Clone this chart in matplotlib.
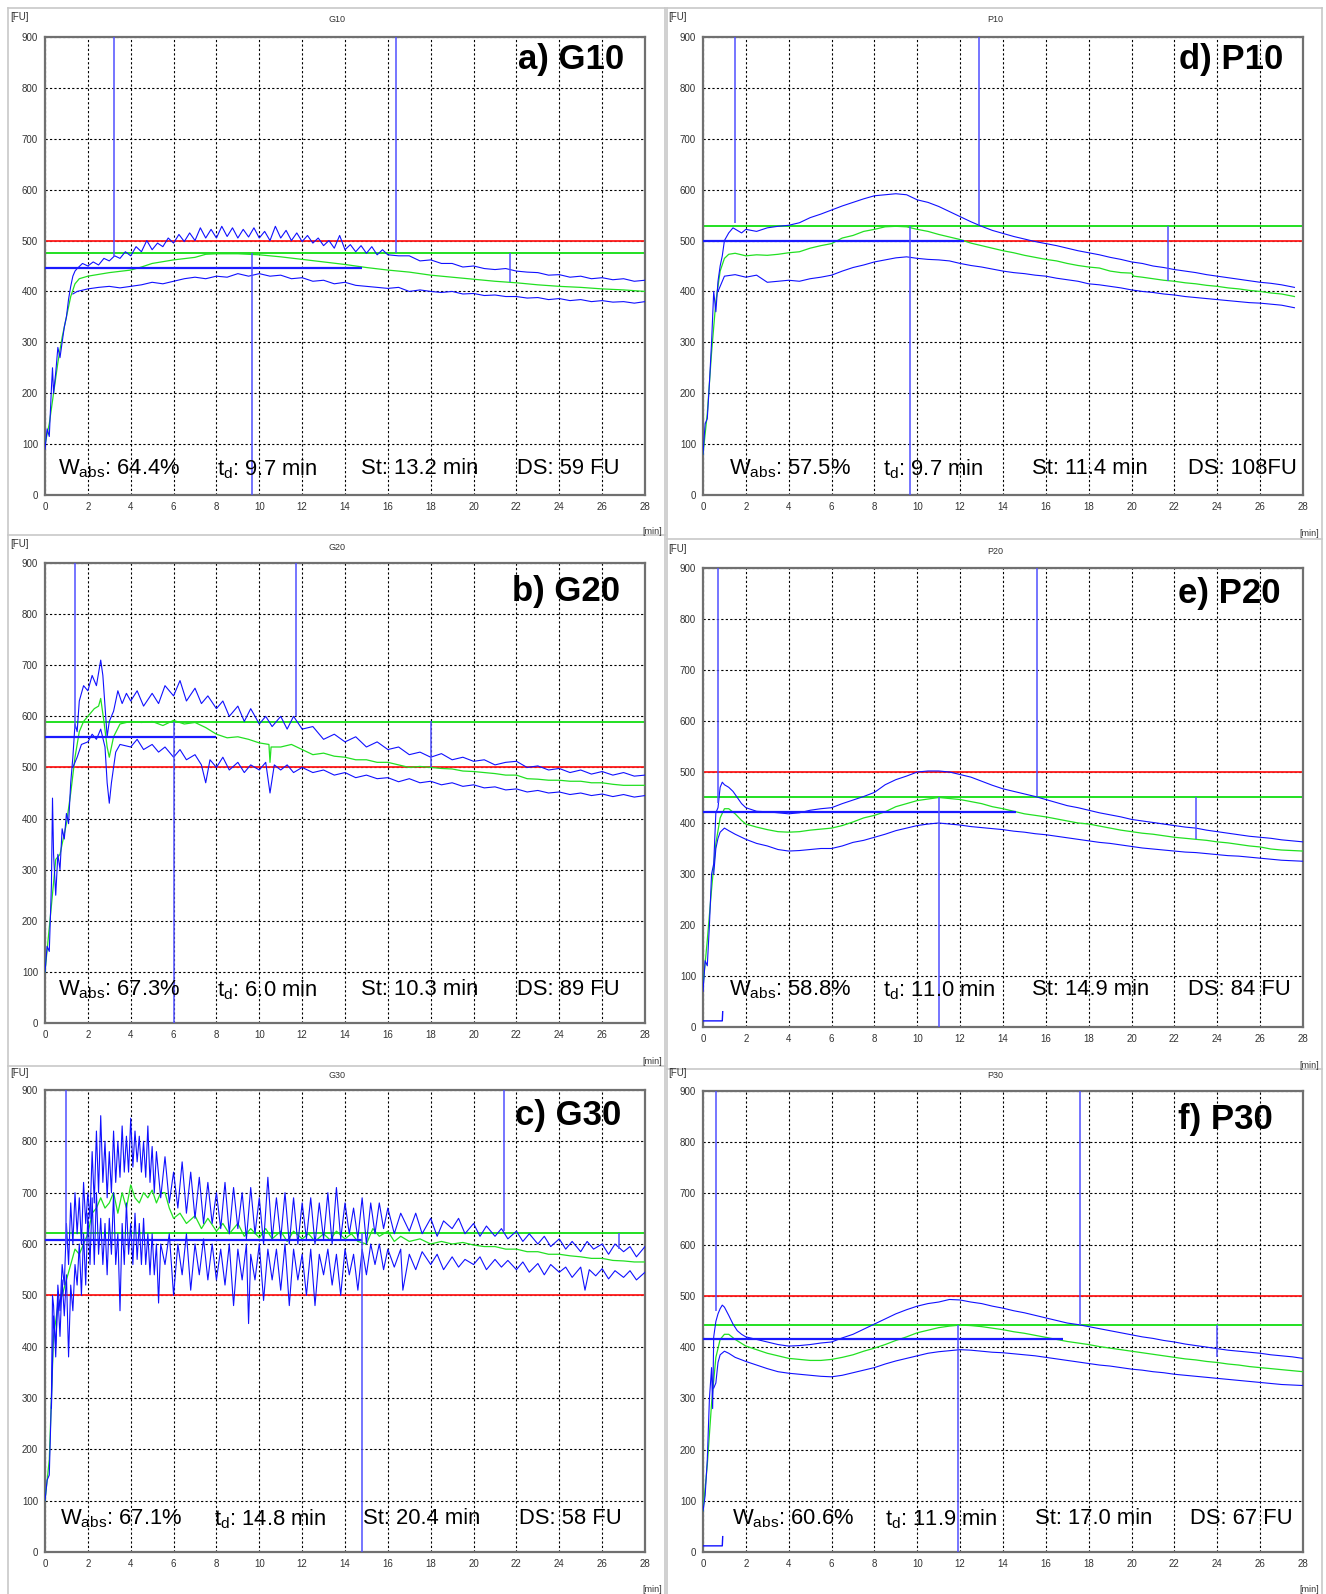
import numpy as np
import matplotlib
matplotlib.use("Agg")
import matplotlib.pyplot as plt
from matplotlib.lines import Line2D

plt.rcParams['font.family'] = ['Liberation Sans', 'DejaVu Sans']
plt.rcParams['mathtext.fontset'] = 'custom'
plt.rcParams['mathtext.rm'] = 'Liberation Sans'
plt.rcParams['mathtext.it'] = 'Liberation Sans'

W, H = 1326, 1594

# ---------------- data (time in min, consistency in FU) ----------------
# a) G10
a_up_t = [0, 0.1, 0.2, 0.3, 0.35, 0.4, 0.5, 0.6, 0.7, 0.8, 0.9, 1.0, 1.1, 1.2, 1.3, 1.4, 1.5,
          1.75, 2.0, 2.25, 2.5, 2.75, 3.0, 3.25, 3.5, 3.75, 4.0, 4.25, 4.5, 4.75, 5.0, 5.25,
          5.5, 5.75, 6.0, 6.25, 6.5, 6.75, 7.0, 7.25, 7.5, 7.75, 8.0, 8.25, 8.5, 8.75, 9.0,
          9.25, 9.5, 9.75, 10.0, 10.25, 10.5, 10.75, 11.0, 11.25, 11.5, 11.75, 12.0, 12.25,
          12.5, 12.75, 13.0, 13.25, 13.5, 13.75, 14.0, 14.25, 14.5, 14.75, 15.0, 15.25, 15.5,
          15.75, 16.0, 16.5, 17.0, 17.5, 18.0, 18.5, 19.0, 19.5, 20.0, 20.5, 21.0, 21.5, 22.0,
          22.5, 23.0, 23.5, 24.0, 24.5, 25.0, 25.5, 26.0, 26.5, 27.0, 27.5, 28.0]
a_up_v = [90, 130, 115, 210, 250, 200, 240, 290, 270, 300, 330, 350, 385, 410, 430, 440, 445,
          455, 450, 458, 452, 465, 460, 470, 465, 478, 470, 488, 478, 500, 482, 495,
          488, 505, 495, 512, 498, 515, 500, 525, 505, 522, 505, 528, 508, 525, 505,
          522, 507, 525, 505, 518, 500, 528, 505, 520, 500, 515, 498, 510,
          495, 505, 490, 500, 485, 510, 482, 492, 478, 490, 475, 488, 472,
          482, 472, 470, 470, 460, 462, 455, 455, 448, 450, 445, 443, 445, 440,
          438, 437, 432, 433, 428, 430, 425, 427, 423, 425, 420, 422]
a_mid_t = [0, 0.2, 0.4, 0.6, 0.8, 1.0, 1.2, 1.4, 1.6, 2, 3, 4, 4.5, 5, 6, 7, 7.5, 8, 9, 10, 11,
           12, 13, 14, 15, 16, 17, 18, 19, 20, 21, 22, 23, 24, 25, 26, 27, 28]
a_mid_v = [100, 140, 200, 260, 310, 350, 390, 415, 425, 430, 437, 442, 448, 455, 462, 467, 473,
           474, 474, 472, 468, 463, 458, 453, 447, 442, 438, 432, 428, 424, 420, 417, 413, 410,
           408, 405, 403, 400]
a_lo_t = [1.3, 1.5, 2.0, 2.5, 3.0, 3.5, 4.0, 4.5, 5.0, 5.5, 6.0, 6.5, 7.0, 7.5, 8.0, 8.5, 9.0,
          9.5, 10.0, 10.5, 11.0, 11.5, 12.0, 12.5, 13.0, 13.5, 14.0, 14.5, 15.0, 15.5, 16.0,
          16.5, 17.0, 17.5, 18.0, 18.5, 19.0, 19.5, 20.0, 20.5, 21.0, 21.5, 22.0, 22.5, 23.0,
          23.5, 24.0, 24.5, 25.0, 25.5, 26.0, 26.5, 27.0, 27.5, 28.0]
a_lo_v = [395, 400, 405, 408, 410, 407, 410, 413, 418, 415, 420, 425, 428, 425, 430, 428, 435,
          430, 435, 430, 432, 425, 427, 420, 422, 415, 418, 412, 410, 408, 406,
          408, 400, 403, 400, 398, 400, 395, 396, 392, 393, 390, 390, 387, 388,
          384, 386, 382, 384, 380, 382, 379, 380, 377, 380]

# b) G20
b_up_t = [0, 0.1, 0.2, 0.3, 0.35, 0.4, 0.5, 0.6, 0.7, 0.8, 0.9, 1.0, 1.1, 1.2, 1.3, 1.4, 1.5,
          1.6, 1.8, 2.0, 2.2, 2.4, 2.6, 2.7, 2.8, 2.9, 3.0, 3.2, 3.4, 3.6, 3.8, 4.0, 4.3, 4.6,
          5.0, 5.3, 5.6, 6.0, 6.3, 6.6, 7.0, 7.3, 7.6, 8.0, 8.3, 8.6, 9.0, 9.3, 9.6, 10.0, 10.3,
          10.6, 11.0, 11.3, 11.6, 12.0, 12.5, 13.0, 13.5, 14.0, 14.5, 15.0, 15.5, 16.0, 16.5,
          17.0, 17.5, 18.0, 18.5, 19.0, 19.5, 20.0, 20.5, 21.0, 21.5, 22.0, 22.5, 23.0, 23.5,
          24.0, 24.5, 25.0, 25.5, 26.0, 26.5, 27.0, 27.5, 28.0]
b_up_v = [100, 150, 140, 270, 440, 330, 250, 330, 300, 380, 360, 410, 390, 470, 520, 585, 570,
          630, 660, 650, 680, 660, 710, 680, 620, 560, 590, 610, 650, 625, 645, 630, 650, 620,
          645, 625, 660, 640, 670, 630, 655, 625, 640, 615, 630, 600, 620, 590, 615, 585, 600,
          580, 600, 575, 600, 575, 580, 555, 565, 550, 560, 540, 550, 535, 540,
          525, 530, 520, 527, 515, 520, 512, 515, 505, 510, 512, 500, 503, 495,
          498, 490, 495, 487, 492, 485, 490, 483, 485]
b_mid_t = [0, 0.3, 0.5, 0.7, 1.0, 1.2, 1.4, 1.6, 1.8, 2.0, 2.3, 2.5, 2.6, 2.75, 2.9, 3.0, 3.2,
           3.5, 4.0, 4.5, 5.0, 5.5, 6.0, 6.5, 7.0, 7.5, 8.0, 8.5, 9.0, 9.5, 10.0, 10.45, 10.5,
           10.55, 11.0, 11.5, 12.0, 12.5, 13.0, 13.5, 14.0, 14.5, 15.0, 15.5, 16.0, 16.5, 17.0,
           17.5, 18.0, 18.5, 19.0, 19.5, 20.0, 20.5, 21.0, 21.5, 22.0, 22.5, 23.0, 23.5, 24.0,
           24.5, 25.0, 25.5, 26.0, 26.5, 27.0, 27.5, 28.0]
b_mid_v = [100, 230, 320, 330, 390, 450, 520, 570, 590, 600, 615, 620, 635, 590, 540, 520, 560,
           585, 590, 588, 590, 582, 592, 585, 588, 578, 565, 558, 560, 555, 548, 545, 510,
           540, 540, 545, 535, 525, 528, 522, 520, 515, 515, 510, 510, 505, 500,
           502, 500, 498, 497, 493, 492, 490, 488, 485, 485, 478, 477, 475, 475,
           473, 473, 470, 470, 467, 465, 465, 465]
b_lo_t = [1.3, 1.5, 1.7, 2.0, 2.2, 2.4, 2.6, 2.8, 2.9, 3.0, 3.1, 3.3, 3.5, 4.0, 4.3, 4.6, 5.0,
          5.3, 5.6, 6.0, 6.3, 6.6, 7.0, 7.3, 7.5, 7.7, 8.0, 8.3, 8.6, 9.0, 9.3, 9.6, 10.0, 10.3,
          10.5, 10.7, 11.0, 11.3, 11.6, 12.0, 12.5, 13.0, 13.5, 14.0, 14.5, 15.0, 15.5, 16.0,
          16.5, 17.0, 17.5, 18.0, 18.5, 19.0, 19.5, 20.0, 20.5, 21.0, 21.5, 22.0, 22.5, 23.0,
          23.5, 24.0, 24.5, 25.0, 25.5, 26.0, 26.5, 27.0, 27.5, 28.0]
b_lo_v = [500, 520, 545, 550, 565, 555, 575, 540, 470, 430, 470, 530, 545, 540, 555, 535, 545,
          530, 540, 520, 535, 515, 525, 505, 470, 515, 500, 520, 495, 510, 490, 505, 495, 510,
          450, 505, 495, 505, 490, 500, 490, 495, 485, 490, 480, 485, 478, 480,
          472, 478, 470, 473, 466, 470, 463, 466, 460, 462, 456, 458, 452, 455,
          450, 452, 447, 450, 445, 448, 443, 447, 442, 445]

# c) G30
c_up_t = [0, 0.1, 0.2, 0.3, 0.35, 0.4, 0.5, 0.6, 0.7, 0.8, 0.9, 1.0, 1.1, 1.2, 1.3, 1.4, 1.5,
          1.6, 1.7, 1.8, 1.9, 2.0, 2.1, 2.2, 2.3, 2.4, 2.5, 2.6, 2.7, 2.8, 2.9, 3.0, 3.1, 3.2,
          3.3, 3.4, 3.5, 3.6, 3.7, 3.8, 3.9, 4.0, 4.1, 4.2, 4.3, 4.4, 4.5, 4.6, 4.7, 4.8, 4.9,
          5.0, 5.1, 5.2, 5.4, 5.6, 5.8, 6.0, 6.2, 6.4, 6.6, 6.8, 7.0, 7.2, 7.4, 7.6, 7.8, 8.0,
          8.2, 8.4, 8.6, 8.8, 9.0, 9.2, 9.4, 9.6, 9.8, 10.0, 10.2, 10.4, 10.6, 10.8, 11.0, 11.2,
          11.4, 11.6, 11.8, 12.0, 12.2, 12.4, 12.6, 12.8, 13.0, 13.2, 13.4, 13.6, 13.8, 14.0,
          14.2, 14.4, 14.6, 14.8, 15.0, 15.2, 15.4, 15.6, 15.8, 16.0, 16.3, 16.6, 17.0, 17.3,
          17.6, 18.0, 18.3, 18.6, 19.0, 19.3, 19.6, 20.0, 20.3, 20.6, 21.0, 21.3, 21.6, 22.0,
          22.3, 22.6, 23.0, 23.3, 23.6, 24.0, 24.3, 24.6, 25.0, 25.3, 25.6, 26.0, 26.3, 26.6,
          27.0, 27.3, 27.6, 28.0]
c_up_v = [100, 140, 150, 300, 500, 480, 380, 520, 470, 560, 520, 640, 560, 680, 600, 700, 620,
          690, 600, 720, 640, 700, 650, 780, 680, 820, 700, 850, 720, 800, 690, 780, 700, 820,
          720, 800, 730, 830, 740, 810, 740, 845, 750, 820, 760, 810, 740, 800, 730, 830, 720,
          790, 700, 780, 690, 770, 680, 740, 670, 760, 660, 740, 650, 730, 640, 720, 640, 700,
          630, 720, 620, 710, 630, 700, 610, 710, 620, 690, 600, 730, 610, 690, 610, 700,
          600, 690, 600, 680, 610, 690, 600, 680, 610, 700, 600, 710, 610, 680,
          620, 670, 610, 690, 600, 680, 620, 680, 630, 670, 620, 660, 625, 660,
          620, 650, 615, 645, 630, 650, 620, 640, 615, 635, 615, 630, 610, 625,
          605, 620, 600, 615, 595, 610, 590, 605, 585, 605, 590, 600, 580, 600,
          585, 595, 575, 595]
c_mid_t = [0, 0.2, 0.4, 0.6, 0.8, 1.0, 1.2, 1.4, 1.6, 1.8, 2.0, 2.2, 2.4, 2.6, 2.8, 3.0, 3.2,
           3.4, 3.6, 3.8, 4.0, 4.2, 4.4, 4.6, 4.8, 5.0, 5.2, 5.4, 5.6, 5.8, 6.0, 6.3, 6.6, 7.0,
           7.3, 7.6, 8.0, 8.3, 8.6, 9.0, 9.3, 9.6, 10.0, 10.3, 10.6, 11.0, 11.3, 11.6, 12.0,
           12.3, 12.6, 13.0, 13.3, 13.6, 14.0, 14.3, 14.6, 15.0, 15.3, 15.6, 16.0, 16.3, 16.6,
           17.0, 17.5, 18.0, 18.5, 19.0, 19.5, 20.0, 20.5, 21.0, 21.5, 22.0, 22.5, 23.0, 23.5,
           24.0, 24.5, 25.0, 25.5, 26.0, 26.5, 27.0, 27.5, 28.0]
c_mid_v = [100, 180, 420, 480, 500, 530, 560, 590, 580, 600, 620, 660, 670, 690, 670, 680, 700,
           660, 700, 670, 715, 690, 680, 700, 690, 705, 680, 700, 700, 670, 650, 660, 640, 655,
           630, 650, 625, 640, 620, 640, 615, 630, 612, 630, 610, 625, 605, 625, 610,
           620, 605, 620, 608, 625, 610, 620, 605, 600, 630, 615, 625, 605, 615,
           605, 610, 600, 605, 600, 603, 598, 595, 595, 590, 590, 585, 585, 580,
           580, 577, 575, 572, 572, 568, 567, 565, 565]
c_lo_t = [0.3, 0.4, 0.5, 0.6, 0.7, 0.8, 0.9, 1.0, 1.1, 1.2, 1.3, 1.4, 1.5, 1.6, 1.7, 1.8, 1.9,
          2.0, 2.1, 2.2, 2.3, 2.4, 2.5, 2.6, 2.7, 2.8, 2.9, 3.0, 3.1, 3.2, 3.3, 3.4, 3.5, 3.6,
          3.7, 3.8, 3.9, 4.0, 4.1, 4.2, 4.3, 4.4, 4.5, 4.6, 4.7, 4.8, 4.9, 5.0, 5.1, 5.2, 5.3,
          5.4, 5.6, 5.8, 6.0, 6.2, 6.4, 6.6, 6.8, 7.0, 7.2, 7.4, 7.6, 7.8, 8.0, 8.2, 8.4, 8.6,
          8.8, 9.0, 9.2, 9.4, 9.5, 9.6, 9.8, 10.0, 10.2, 10.4, 10.6, 10.8, 11.0, 11.2, 11.4,
          11.6, 11.8, 12.0, 12.2, 12.4, 12.6, 12.8, 13.0, 13.2, 13.4, 13.6, 13.8, 14.0, 14.2,
          14.4, 14.6, 14.8, 15.0, 15.2, 15.4, 15.6, 15.8, 16.0, 16.3, 16.6, 16.7, 17.0, 17.3,
          17.6, 18.0, 18.3, 18.6, 19.0, 19.3, 19.6, 20.0, 20.3, 20.6, 21.0, 21.3, 21.6, 22.0,
          22.3, 22.6, 23.0, 23.3, 23.6, 24.0, 24.3, 24.6, 25.0, 25.2, 25.4, 25.7, 26.0, 26.3,
          26.6, 27.0, 27.3, 27.6, 28.0]
c_lo_v = [280, 460, 400, 500, 420, 530, 460, 540, 380, 520, 470, 560, 520, 600, 500, 620, 520,
          660, 560, 690, 560, 700, 580, 650, 560, 640, 540, 650, 580, 700, 560, 620, 470, 640,
          560, 680, 580, 640, 560, 660, 570, 640, 560, 650, 560, 620, 540, 620, 540, 600, 485,
          600, 560, 620, 500, 600, 540, 620, 510, 600, 540, 610, 530, 600, 530, 590, 520, 600,
          480, 590, 530, 600, 445, 580, 530, 600, 490, 590, 530, 590, 510, 600, 480,
          590, 530, 580, 500, 590, 480, 580, 540, 590, 520, 580, 500, 590, 540,
          580, 510, 590, 540, 600, 560, 600, 550, 590, 555, 590, 510, 580, 550,
          585, 560, 580, 550, 575, 555, 570, 560, 575, 550, 570, 555, 568, 550,
          565, 545, 562, 540, 560, 545, 555, 535, 555, 510, 550, 538, 552, 532,
          548, 535, 548, 530, 545]

# d) P10
d_up_t = [0, 0.1, 0.2, 0.3, 0.4, 0.5, 0.6, 0.7, 0.8, 0.9, 1.0, 1.2, 1.4, 1.6, 1.8, 2.0, 2.5,
          3.0, 3.5, 4.0, 4.5, 5.0, 5.5, 6.0, 6.5, 7.0, 7.5, 8.0, 8.5, 9.0, 9.5, 10.0, 10.5,
          11.0, 11.5, 12.0, 12.5, 13.0, 13.5, 14.0, 14.5, 15.0, 15.5, 16.0, 16.5, 17.0, 17.5,
          18.0, 18.5, 19.0, 19.5, 20.0, 20.5, 21.0, 21.5, 22.0, 22.5, 23.0, 23.5, 24.0, 24.5,
          25.0, 25.5, 26.0, 26.5, 27.0, 27.6]
d_up_v = [80, 140, 150, 220, 300, 400, 360, 420, 450, 470, 500, 515, 525, 520, 515, 522, 518,
          525, 528, 530, 535, 545, 552, 560, 568, 575, 582, 588, 590, 592, 590, 580, 575,
          567, 557, 547, 537, 528, 520, 514, 508, 503, 498, 494, 490, 485, 480,
          476, 472, 467, 463, 458, 455, 450, 447, 443, 440, 437, 433, 430, 427,
          424, 421, 418, 416, 413, 408]
d_mid_t = [0, 0.2, 0.4, 0.6, 0.8, 1.0, 1.2, 1.5, 2.0, 2.5, 3.0, 3.5, 4.0, 4.5, 5.0, 5.5, 6.0,
           6.5, 7.0, 7.5, 8.0, 8.5, 9.0, 9.5, 10.0, 10.5, 11.0, 11.5, 12.0, 12.5, 13.0, 13.5,
           14.0, 14.5, 15.0, 15.5, 16.0, 16.5, 17.0, 17.5, 18.0, 18.5, 19.0, 19.5, 20.0, 20.1,
           20.5, 21.0, 21.5, 22.0, 22.5, 23.0, 23.5, 24.0, 24.5, 25.0, 25.5, 26.0, 26.5, 27.0,
           27.6]
d_mid_v = [80, 160, 280, 380, 440, 465, 473, 475, 470, 472, 471, 473, 476, 478, 485, 490, 494,
           505, 510, 518, 522, 527, 528, 527, 522, 518, 512, 507, 502, 495, 490, 485,
           480, 476, 471, 467, 463, 460, 455, 451, 448, 446, 440, 437, 436, 430,
           428, 425, 422, 420, 417, 415, 412, 410, 407, 405, 402, 400, 397, 395,
           390]
d_lo_t = [0.7, 0.9, 1.0, 1.5, 2.0, 2.5, 3.0, 3.5, 4.0, 4.5, 5.0, 5.5, 6.0, 6.5, 7.0, 7.5, 8.0,
          8.5, 9.0, 9.5, 10.0, 10.5, 11.0, 11.5, 12.0, 12.5, 13.0, 13.5, 14.0, 14.5, 15.0, 15.5,
          16.0, 16.5, 17.0, 17.5, 18.0, 18.5, 19.0, 19.5, 20.0, 20.5, 21.0, 21.5, 22.0, 22.5,
          23.0, 23.5, 24.0, 24.5, 25.0, 25.5, 26.0, 26.5, 27.0, 27.6]
d_lo_v = [400, 420, 430, 433, 428, 432, 418, 420, 422, 420, 425, 428, 432, 440, 447, 452, 458,
          462, 466, 468, 465, 463, 462, 460, 455, 451, 448, 444, 440, 437, 435, 432,
          430, 426, 423, 420, 415, 413, 410, 407, 403, 400, 398, 395, 393, 390,
          388, 386, 384, 382, 380, 378, 377, 375, 373, 368]

# e) P20
e_up_t = [0, 0.1, 0.2, 0.3, 0.4, 0.5, 0.6, 0.7, 0.8, 0.9, 1.0, 1.2, 1.4, 1.6, 1.8, 2.0, 2.5,
          3.0, 3.5, 4.0, 4.5, 5.0, 5.5, 6.0, 6.5, 7.0, 7.5, 8.0, 8.5, 9.0, 9.5, 10.0, 10.5,
          11.0, 11.5, 12.0, 12.5, 13.0, 13.5, 14.0, 14.5, 15.0, 15.5, 16.0, 16.5, 17.0, 17.5,
          18.0, 18.5, 19.0, 19.5, 20.0, 20.5, 21.0, 21.5, 22.0, 22.5, 23.0, 23.5, 24.0, 24.5,
          25.0, 25.5, 26.0, 26.5, 27.0, 27.5, 28.0]
e_up_v = [70, 130, 120, 200, 300, 320, 420, 430, 470, 480, 475, 470, 462, 450, 438, 430, 423,
          422, 420, 418, 420, 425, 428, 430, 438, 445, 452, 460, 475, 485, 492, 500, 502,
          502, 500, 495, 490, 482, 474, 467, 462, 457, 452, 446, 440, 434, 430,
          425, 420, 416, 412, 407, 404, 401, 398, 395, 392, 390, 386, 383, 380,
          377, 374, 372, 370, 367, 365, 363]
e_mid_t = [0, 0.2, 0.4, 0.6, 0.8, 1.0, 1.2, 1.5, 1.8, 2.0, 2.5, 3.0, 3.5, 4.0, 4.5, 5.0, 5.5,
           6.0, 6.5, 7.0, 7.5, 8.0, 8.5, 9.0, 9.5, 10.0, 10.5, 11.0, 11.5, 12.0, 12.5, 13.0,
           13.5, 14.0, 14.5, 15.0, 15.5, 16.0, 16.5, 17.0, 17.5, 18.0, 18.5, 19.0, 19.5, 20.0,
           20.5, 21.0, 21.5, 22.0, 22.5, 23.0, 23.5, 24.0, 24.5, 25.0, 25.5, 26.0, 26.5, 27.0,
           27.5, 28.0]
e_mid_v = [80, 170, 270, 360, 410, 428, 428, 418, 405, 398, 392, 387, 383, 382, 383, 386, 388,
           390, 395, 402, 410, 415, 422, 432, 438, 444, 447, 450, 448, 446, 442, 438,
           432, 428, 423, 418, 415, 412, 408, 404, 400, 398, 394, 390, 386, 383,
           380, 378, 375, 372, 370, 368, 366, 363, 361, 358, 355, 353, 349, 347,
           346, 345]
e_lo_t = [0.5, 0.6, 0.7, 0.8, 1.0, 1.2, 1.5, 2.0, 2.5, 3.0, 3.5, 4.0, 4.5, 5.0, 5.5, 6.0, 6.5,
          7.0, 7.5, 8.0, 8.5, 9.0, 9.5, 10.0, 10.5, 11.0, 11.5, 12.0, 12.5, 13.0, 13.5, 14.0,
          14.5, 15.0, 15.5, 16.0, 16.5, 17.0, 17.5, 18.0, 18.5, 19.0, 19.5, 20.0, 20.5, 21.0,
          21.5, 22.0, 22.5, 23.0, 23.5, 24.0, 24.5, 25.0, 25.5, 26.0, 26.5, 27.0, 27.5, 28.0]
e_lo_v = [300, 350, 370, 382, 390, 385, 378, 368, 360, 355, 348, 345, 346, 348, 350, 350, 355,
          362, 366, 372, 378, 385, 390, 395, 398, 400, 398, 396, 393, 391, 389, 387,
          384, 382, 379, 377, 374, 371, 368, 365, 362, 360, 357, 354, 351, 349,
          347, 345, 343, 342, 340, 338, 336, 335, 333, 331, 329, 327, 326, 325]

# f) P30
f_up_t = [0, 0.1, 0.2, 0.3, 0.4, 0.45, 0.5, 0.6, 0.7, 0.8, 0.9, 1.0, 1.2, 1.4, 1.6, 1.8, 2.0,
          2.5, 3.0, 3.5, 4.0, 4.5, 5.0, 5.5, 6.0, 6.5, 7.0, 7.5, 8.0, 8.5, 9.0, 9.5, 10.0, 10.5,
          11.0, 11.5, 12.0, 12.5, 13.0, 13.5, 14.0, 14.5, 15.0, 15.5, 16.0, 16.5, 17.0, 17.5,
          18.0, 18.5, 19.0, 19.5, 20.0, 20.5, 21.0, 21.5, 22.0, 22.5, 23.0, 23.5, 24.0, 24.5,
          25.0, 25.5, 26.0, 26.5, 27.0, 27.5, 28.0]
f_up_v = [80, 110, 180, 300, 360, 280, 420, 450, 465, 475, 482, 478, 462, 445, 432, 425, 420,
          415, 410, 405, 402, 403, 405, 408, 410, 418, 425, 435, 445, 455, 465, 473, 480, 485,
          488, 493, 492, 488, 485, 480, 476, 471, 467, 462, 457, 452, 447, 444,
          440, 436, 432, 428, 424, 420, 417, 413, 410, 406, 403, 400, 397, 394,
          392, 390, 388, 385, 383, 381, 378]
f_mid_t = [0, 0.2, 0.4, 0.6, 0.8, 1.0, 1.2, 1.5, 2.0, 2.5, 3.0, 3.5, 4.0, 4.5, 5.0, 5.5, 6.0,
           6.5, 7.0, 7.5, 8.0, 8.5, 9.0, 9.5, 10.0, 10.5, 11.0, 11.5, 12.0, 12.5, 13.0, 13.5,
           14.0, 14.5, 15.0, 15.5, 16.0, 16.5, 17.0, 17.5, 18.0, 18.5, 19.0, 19.5, 20.0, 20.5,
           21.0, 21.5, 22.0, 22.5, 23.0, 23.5, 24.0, 24.5, 25.0, 25.5, 26.0, 26.5, 27.0, 27.5,
           28.0]
f_mid_v = [80, 170, 290, 380, 415, 425, 425, 415, 402, 395, 388, 383, 378, 376, 374, 374, 376,
           380, 385, 392, 398, 405, 413, 420, 428, 433, 438, 441, 443, 442, 440, 437,
           434, 430, 427, 423, 419, 415, 411, 408, 405, 401, 398, 395, 392, 389,
           386, 383, 380, 377, 375, 372, 370, 367, 365, 362, 360, 358, 356, 354,
           352]
f_lo_t = [0.5, 0.6, 0.7, 0.8, 1.0, 1.2, 1.5, 2.0, 2.5, 3.0, 3.5, 4.0, 4.5, 5.0, 5.5, 6.0, 6.5,
          7.0, 7.5, 8.0, 8.5, 9.0, 9.5, 10.0, 10.5, 11.0, 11.5, 12.0, 12.5, 13.0, 13.5, 14.0,
          14.5, 15.0, 15.5, 16.0, 16.5, 17.0, 17.5, 18.0, 18.5, 19.0, 19.5, 20.0, 20.5, 21.0,
          21.5, 22.0, 22.5, 23.0, 23.5, 24.0, 24.5, 25.0, 25.5, 26.0, 26.5, 27.0, 27.5, 28.0]
f_lo_v = [320, 330, 370, 385, 392, 388, 380, 372, 365, 358, 352, 349, 347, 345, 343, 342, 345,
          350, 355, 360, 367, 373, 378, 383, 388, 391, 393, 395, 394, 392, 390, 389,
          387, 385, 383, 380, 377, 374, 371, 368, 365, 363, 360, 357, 355, 352,
          350, 347, 345, 343, 341, 339, 337, 335, 333, 331, 329, 327, 326, 325]

# small start-up trace near zero (P20, P30)
start_t = [0, 0.9, 0.92]
start_v = [12, 12, 30]

# evaluation marks per panel
titles = ['G10', 'G20', 'G30', 'P10', 'P20', 'P30']
labels = ['a) G10', 'b) G20', 'c) G30', 'd) P10', 'e) P20', 'f) P30']
green_level = [475, 588, 622, 528, 451, 443]
mean_level = [447, 560, 607, 500, 422, 415]
mean_end = [14.8, 8.0, 14.8, 12.2, 14.6, 16.8]
# (time, from FU, to FU)
marks = [
    [(3.2, 470, 900), (16.4, 476, 900), (9.65, 0, 475), (21.7, 418, 476)],
    [(1.4, 575, 900), (11.7, 600, 900), (6.0, 0, 588), (18.0, 500, 590)],
    [(1.0, 600, 900), (21.4, 625, 900), (14.8, 0, 622), (26.8, 590, 622)],
    [(1.5, 535, 900), (12.9, 530, 900), (9.65, 0, 528), (21.7, 420, 528)],
    [(0.7, 440, 900), (15.6, 452, 900), (11.0, 0, 451), (23.0, 368, 451)],
    [(0.6, 470, 900), (17.6, 443, 900), (11.9, 0, 443), (24.0, 380, 443)],
]
wabs = ['64.4%', '67.3%', '67.1%', '57.5%', '58.8%', '60.6%']
td = ['9.7 min', '6.0 min', '14.8 min', '9.7 min', '11.0 min', '11.9 min']
st = ['13.2 min', '10.3 min', '20.4 min', '11.4 min', '14.9 min', '17.0 min']
ds = ['59 FU', '89 FU', '58 FU', '108FU', '84 FU', '67 FU']

curves = [
    (a_up_t, a_up_v, a_mid_t, a_mid_v, a_lo_t, a_lo_v),
    (b_up_t, b_up_v, b_mid_t, b_mid_v, b_lo_t, b_lo_v),
    (c_up_t, c_up_v, c_mid_t, c_mid_v, c_lo_t, c_lo_v),
    (d_up_t, d_up_v, d_mid_t, d_mid_v, d_lo_t, d_lo_v),
    (e_up_t, e_up_v, e_mid_t, e_mid_v, e_lo_t, e_lo_v),
    (f_up_t, f_up_v, f_mid_t, f_mid_v, f_lo_t, f_lo_v),
]

# ---------------- layout in pixels ----------------
# axes boxes: (left, top, right, bottom)
boxes = [(45, 37, 645, 495), (45, 563, 645, 1023), (45, 1090, 645, 1552),
         (703, 37, 1303, 495), (703, 568, 1303, 1027), (703, 1091, 1303, 1552)]
# label text anchors
label_xy = [(624, 59), (620, 592), (621, 1115), (1283, 59), (1281, 593), (1273, 1119)]
stat_y = [469, 990, 1519, 469, 990, 1519]
stat_x = [(58, 217, 361, 517), (58, 217, 361, 517), (60, 214, 363, 519),
          (729, 883, 1032, 1188), (729, 883, 1032, 1188), (732, 885, 1035, 1190)]
fu_y = [17, 544, 1073, 17, 549, 1073]
min_y = [532, 1062, 1590, 533, 1066, 1589]

BLUE = '#1010ff'
MARK = '#5050ff'
GREEN = '#22e022'
RED = '#ff1a1a'
NARROW = ['Liberation Sans Narrow', 'Liberation Sans', 'DejaVu Sans']


def fx(px):
    return px / W


def fy(py):
    return 1 - py / H


fig = plt.figure(figsize=(W / 100, H / 100), dpi=100)
fig.patch.set_facecolor('white')

# light grey panel frames
frame_lines = [
    ((8, 8), (8, H)), ((665, 665), (8, H)), ((667, 667), (8, H)), ((1322, 1322), (8, H)),
    ((8, 665), (8, 8)), ((667, 1322), (8, 8)),
    ((8, 665), (535, 535)), ((8, 665), (1066, 1066)),
    ((667, 1322), (539, 539)), ((667, 1322), (1069, 1069)),
]
for xs, ys in frame_lines:
    fig.add_artist(Line2D([fx(v) for v in xs], [fy(v) for v in ys],
                          color='#c8c8c8', lw=1.2))

for i in range(6):
    l, t, r, b = boxes[i]
    ax = fig.add_axes([fx(l), fy(b), (r - l) / W, (b - t) / H])
    ax.set_xlim(0, 28)
    ax.set_ylim(0, 900)
    ax.set_xticks(np.arange(0, 29, 2))
    ax.set_yticks(np.arange(0, 901, 100))
    ax.tick_params(length=0, pad=5, labelsize=7, labelcolor='#333333')
    for lab in ax.get_xticklabels() + ax.get_yticklabels():
        lab.set_family(NARROW)
    ax.grid(True, color='black', linestyle=(0, (2, 2)), lw=0.8)
    ax.set_axisbelow(True)
    for sp in ax.spines.values():
        sp.set_color('#707070')
        sp.set_linewidth(1.6)

    ax.axhline(500, color=RED, lw=1.3, zorder=2)
    ax.axhline(green_level[i], color=GREEN, lw=1.4, zorder=2)

    up_t, up_v, mid_t, mid_v, lo_t, lo_v = curves[i]
    ax.plot(mid_t, mid_v, color=GREEN, lw=0.9, zorder=3)
    ax.plot(up_t, up_v, color=BLUE, lw=0.8, zorder=4)
    ax.plot(lo_t, lo_v, color=BLUE, lw=0.8, zorder=4)
    if i in (4, 5):
        ax.plot(start_t, start_v, color=BLUE, lw=1.0, zorder=4)

    ax.hlines(mean_level[i], 0, mean_end[i], color='#1a1aff', lw=1.6, zorder=5)
    for (xt, y0, y1) in marks[i]:
        ax.vlines(xt, y0, y1, color=MARK, lw=1.1, zorder=5)

    # texts
    lx, ly = label_xy[i]
    fig.text(fx(lx), fy(ly), labels[i], ha='right', va='center',
             fontsize=25, fontweight='bold')
    sx = stat_x[i]
    sy = fy(stat_y[i])
    fig.text(fx(sx[0]), sy, r'W$_\mathrm{abs}$: ' + wabs[i], ha='left', va='center', fontsize=15.8)
    fig.text(fx(sx[1]), sy, r't$_\mathrm{d}$: ' + td[i], ha='left', va='center', fontsize=15.8)
    fig.text(fx(sx[2]), sy, 'St: ' + st[i], ha='left', va='center', fontsize=15.8)
    fig.text(fx(sx[3]), sy, 'DS: ' + ds[i], ha='left', va='center', fontsize=15.8)

    # small header texts
    col_x = 10 if i < 3 else 668
    fig.text(fx(col_x), fy(fu_y[i]), '[FU]', ha='left', va='center', fontsize=7,
             family=NARROW, color='#333333')
    fig.text(fx((l + r) / 2 - 8), fy(fu_y[i] + 3), titles[i], ha='center', va='center',
             fontsize=6.5, family=NARROW, color='#333333')
    min_x = 662 if i < 3 else 1319
    fig.text(fx(min_x), fy(min_y[i]), '[min]', ha='right', va='center', fontsize=6.5,
             family=NARROW, color='#333333')

fig.savefig('out.png', dpi=100, facecolor='white')
